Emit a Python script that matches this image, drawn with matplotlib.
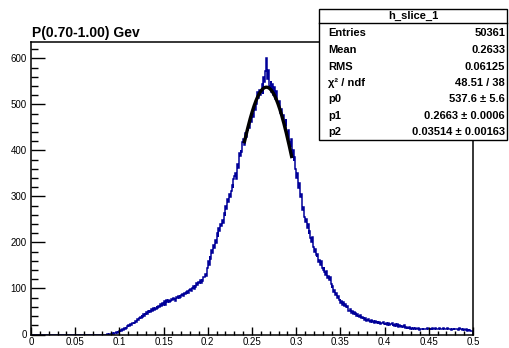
import numpy as np
import matplotlib.pyplot as plt
from matplotlib.patches import Rectangle
from matplotlib.lines import Line2D
from matplotlib.ticker import MultipleLocator

plt.rcParams['font.family'] = ['Liberation Sans', 'DejaVu Sans']

# h_slice_1 : 500 bins from 0 to 0.5, one row per 0.01
counts_rows = [
    [0] * 10, [0] * 10, [0] * 10, [0] * 10,   # 0.00 - 0.04
    [0] * 10, [0] * 10, [0] * 10, [0] * 10,   # 0.04 - 0.08
    [0, 0, 0, 0, 0, 0, 1, 0, 2, 1],
    [2, 1, 3, 2, 4, 3, 5, 4, 6, 8],
    [7, 9, 8, 12, 10, 14, 13, 16, 15, 18],
    [20, 18, 23, 21, 25, 24, 27, 26, 30, 28],
    [33, 31, 35, 38, 36, 42, 39, 44, 41, 45],
    [48, 44, 50, 47, 52, 49, 55, 51, 57, 54],
    [58, 55, 61, 57, 63, 60, 66, 62, 68, 64],
    [68, 72, 65, 74, 70, 76, 71, 73, 78, 74],
    [75, 80, 77, 73, 82, 79, 84, 80, 86, 82],
    [85, 88, 83, 90, 87, 92, 89, 95, 91, 97],
    [98, 94, 101, 105, 99, 108, 104, 112, 107, 115],
    [113, 118, 112, 121, 117, 126, 124, 132, 128, 145],
    [160, 152, 171, 165, 183, 178, 195, 188, 205, 199],
    [220, 212, 231, 224, 240, 236, 248, 242, 265, 258],
    [280, 272, 295, 288, 305, 299, 312, 325, 318, 338],
    [345, 352, 338, 370, 362, 395, 388, 402, 396, 418],
    [425, 412, 438, 430, 446, 442, 455, 448, 470, 462],
    [480, 472, 495, 488, 510, 502, 528, 515, 532, 520],
    [530, 545, 522, 560, 548, 572, 600, 556, 575, 540],
    [535, 552, 528, 545, 520, 538, 512, 530, 505, 498],
    [495, 508, 482, 490, 470, 478, 462, 455, 468, 440],
    [430, 445, 418, 410, 425, 390, 402, 378, 385, 360],
    [340, 352, 318, 330, 298, 305, 285, 270, 278, 255],
    [245, 252, 232, 240, 218, 225, 210, 202, 212, 190],
    [180, 186, 172, 168, 175, 158, 163, 152, 160, 145],
    [140, 146, 135, 130, 138, 122, 128, 118, 124, 110],
    [100, 105, 92, 96, 85, 90, 80, 84, 75, 78],
    [68, 72, 64, 70, 62, 66, 60, 58, 63, 52],
    [50, 55, 47, 52, 45, 48, 43, 46, 40, 44],
    [40, 37, 42, 35, 38, 34, 36, 32, 35, 30],
    [31, 34, 29, 32, 28, 31, 27, 30, 26, 29],
    [27, 25, 29, 24, 28, 23, 26, 25, 27, 22],
    [24, 22, 26, 21, 25, 20, 23, 22, 24, 19],
    [21, 19, 23, 18, 22, 17, 20, 19, 21, 16],
    [18, 16, 20, 15, 17, 14, 16, 15, 17, 13],
    [14, 12, 15, 11, 14, 12, 13, 11, 14, 10],
    [12, 13, 11, 14, 12, 13, 12, 11, 14, 12],
    [13, 11, 14, 12, 15, 13, 12, 14, 11, 13],
    [13, 12, 14, 11, 13, 12, 15, 12, 11, 13],
    [12, 14, 11, 13, 12, 10, 13, 11, 14, 12],
    [12, 11, 13, 10, 14, 12, 11, 13, 10, 12],
    [10, 9, 11, 8, 10, 7, 9, 8, 7, 7],
]
counts = np.concatenate(counts_rows)
edges = np.linspace(0.0, 0.5, len(counts) + 1)

# gaussian fit parameters
p0, p1, p2 = 537.6, 0.2663, 0.03514
fit_range = (0.2415, 0.2948)

stat_labels = ['Entries', 'Mean', 'RMS', 'χ² / ndf', 'p0', 'p1', 'p2']
stat_values = ['50361', '0.2633', '0.06125', '48.51 / 38',
               '537.6 ± 5.6', '0.2663 ± 0.0006', '0.03514 ± 0.00163']

W, H = 509, 348
fig = plt.figure(figsize=(W / 100, H / 100), dpi=100)
ax = fig.add_axes([31 / W, 1 - 334.5 / H, 442 / W, 292.8 / H])

ax.stairs(counts, edges, color='#000099', linewidth=1.1)

xf = np.linspace(fit_range[0], fit_range[1], 200)
ax.plot(xf, p0 * np.exp(-0.5 * ((xf - p1) / p2) ** 2), color='black', linewidth=2.4)

ax.set_xlim(0, 0.5)
ax.set_ylim(0, 636.5)
ax.xaxis.set_major_locator(MultipleLocator(0.05))
ax.xaxis.set_minor_locator(MultipleLocator(0.01))
ax.yaxis.set_major_locator(MultipleLocator(100))
ax.yaxis.set_minor_locator(MultipleLocator(20))
ax.xaxis.set_major_formatter(plt.FuncFormatter(lambda v, p: f'{v:g}'))
ax.tick_params(axis='both', which='both', direction='in', width=1.0,
               top=False, right=False, labelsize=7)
ax.tick_params(axis='x', which='major', length=6, pad=2)
ax.tick_params(axis='x', which='minor', length=3)
ax.tick_params(axis='y', which='major', length=10, pad=3)
ax.tick_params(axis='y', which='minor', length=5)
for s in ax.spines.values():
    s.set_linewidth(1.1)

fig.text(32 / W, 1 - 37 / H, 'P(0.70-1.00) Gev', fontsize=10, fontweight='bold',
         ha='left', va='baseline')

# statistics box
bx0, bx1, by0, by1 = 319, 507, 9, 140
fig.add_artist(Rectangle((bx0 / W, 1 - by1 / H), (bx1 - bx0) / W, (by1 - by0) / H,
                         transform=fig.transFigure, facecolor='white',
                         edgecolor='black', linewidth=1.0))
fig.add_artist(Line2D([bx0 / W, bx1 / W], [1 - 23 / H, 1 - 23 / H],
                      transform=fig.transFigure, color='black', linewidth=1.0))
fig.text((bx0 + bx1) / 2 / W, 1 - 16 / H, 'h_slice_1', fontsize=8,
         fontweight='bold', ha='center', va='center')
row_y = [33, 50, 66.5, 83, 99, 116, 132]
for lab, val, y in zip(stat_labels, stat_values, row_y):
    fig.text(328 / W, 1 - y / H, lab, fontsize=8, fontweight='bold',
             ha='left', va='center')
    fig.text(505 / W, 1 - y / H, val, fontsize=8, fontweight='bold',
             ha='right', va='center')

fig.savefig('out.png', dpi=100, facecolor='white')
